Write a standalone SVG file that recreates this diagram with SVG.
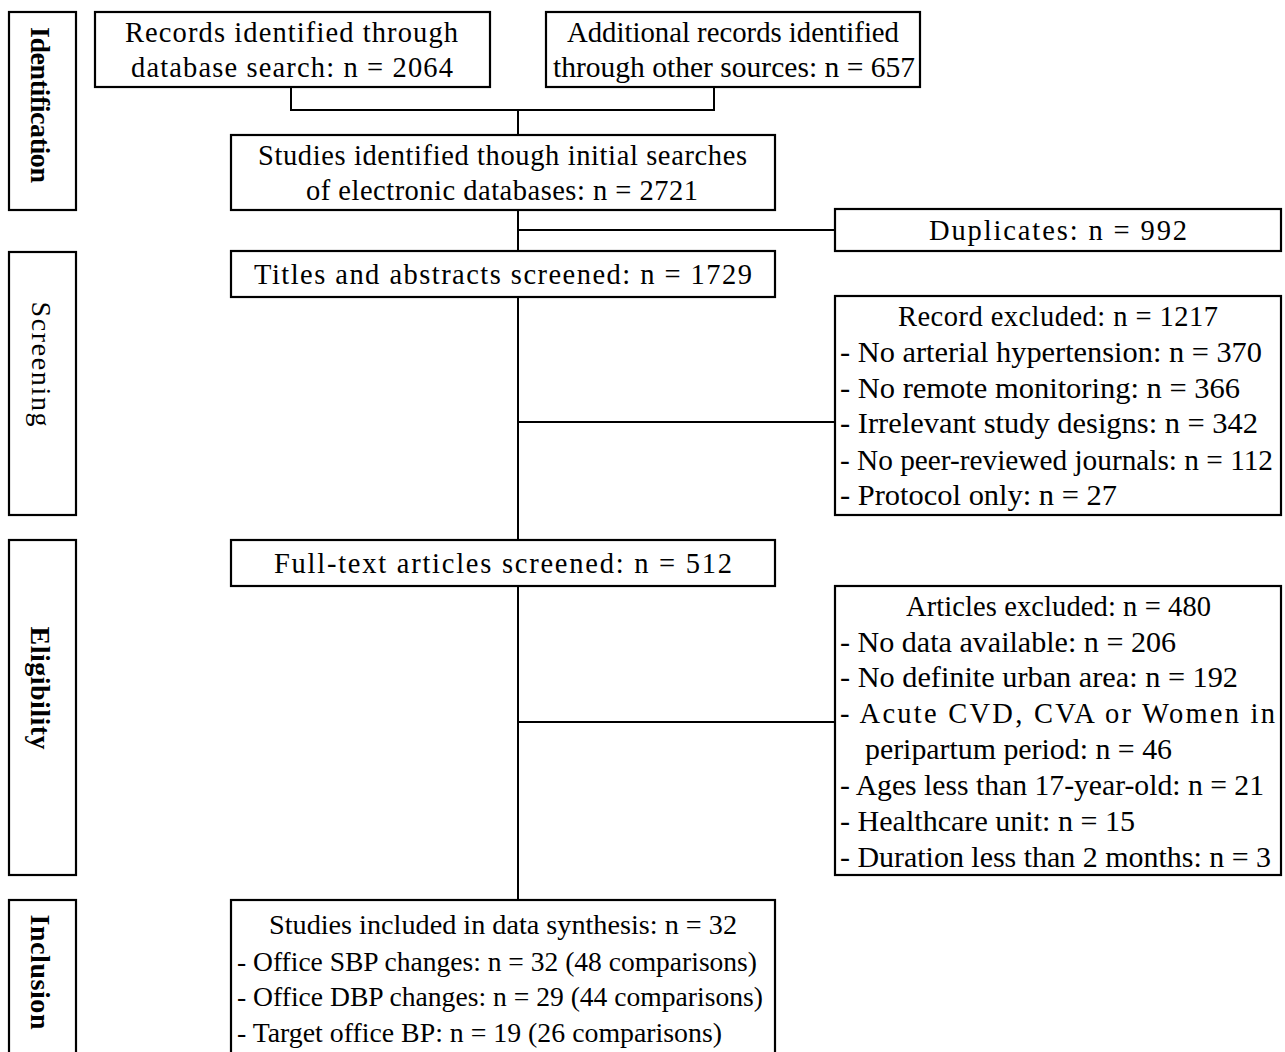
<svg xmlns="http://www.w3.org/2000/svg" width="1285" height="1052" viewBox="0 0 1285 1052">
<style>
.box{fill:#fff;stroke:#000;stroke-width:2.2}
.ln{fill:none;stroke:#000;stroke-width:2}
.t{font-family:"Liberation Serif","DejaVu Serif",serif;font-size:28.5px;fill:#000}
.s{font-family:"Liberation Serif","DejaVu Serif",serif;font-size:27px;fill:#000}
.side{font-family:"Liberation Serif","DejaVu Serif",serif;font-size:28px;fill:#000;font-weight:bold;text-anchor:middle}
</style>
<rect width="1285" height="1052" fill="#fff"/>
<g id="connectors">
<polyline class="ln" points="291,87 291,110 714,110 714,87"/>
<line class="ln" x1="518" y1="110" x2="518" y2="135"/>
<line class="ln" x1="518" y1="210" x2="518" y2="251"/>
<line class="ln" x1="518" y1="230" x2="835" y2="230"/>
<line class="ln" x1="518" y1="297" x2="518" y2="540"/>
<line class="ln" x1="518" y1="422" x2="835" y2="422"/>
<line class="ln" x1="518" y1="586" x2="518" y2="900"/>
<line class="ln" x1="518" y1="722" x2="835" y2="722"/>
</g>
<g id="stage-identification">
<rect class="box" x="9" y="12" width="67" height="198"/>
<text class="side" transform="translate(31,105) rotate(90)" textLength="156">Identification</text>
</g>
<g id="stage-screening">
<rect class="box" x="9" y="252" width="67" height="263"/>
<text class="side" transform="translate(32,364) rotate(90)" style="font-weight:normal" textLength="125">Screening</text>
</g>
<g id="stage-eligibility">
<rect class="box" x="9" y="540" width="67" height="335"/>
<text class="side" transform="translate(31,688) rotate(90)" textLength="123">Eligibility</text>
</g>
<g id="stage-inclusion">
<rect class="box" x="9" y="900" width="67" height="170"/>
<text class="side" transform="translate(31,972) rotate(90)" textLength="115">Inclusion</text>
</g>
<g id="records-db">
<rect class="box" x="95" y="12" width="395" height="75"/>
<text class="t" x="125" y="42" textLength="333" lengthAdjust="spacing">Records identified through</text>
<text class="t" x="131" y="77" textLength="322" lengthAdjust="spacing">database search: n = 2064</text>
</g>
<g id="records-other">
<rect class="box" x="546" y="12" width="374" height="75"/>
<text class="t" x="567" y="42" textLength="332" lengthAdjust="spacingAndGlyphs">Additional records identified</text>
<text class="t" x="553" y="77" textLength="362" lengthAdjust="spacingAndGlyphs">through other sources: n = 657</text>
</g>
<g id="studies-identified">
<rect class="box" x="231" y="135" width="544" height="75"/>
<text class="t" x="258" y="165" textLength="489" lengthAdjust="spacing">Studies identified though initial searches</text>
<text class="t" x="306" y="200" textLength="392" lengthAdjust="spacing">of electronic databases: n = 2721</text>
</g>
<g id="duplicates">
<rect class="box" x="835" y="209" width="446" height="42"/>
<text class="t" x="929" y="240" textLength="258" lengthAdjust="spacing">Duplicates: n = 992</text>
</g>
<g id="titles-screened">
<rect class="box" x="231" y="251" width="544" height="46"/>
<text class="t" x="254" y="284" textLength="498" lengthAdjust="spacing">Titles and abstracts screened: n = 1729</text>
</g>
<g id="record-excluded">
<rect class="box" x="835" y="296" width="446" height="219"/>
<text class="t" x="898" y="326" textLength="320" lengthAdjust="spacing">Record excluded: n = 1217</text>
<text class="t" x="840" y="362" textLength="422" lengthAdjust="spacingAndGlyphs">- No arterial hypertension: n = 370</text>
<text class="t" x="840" y="398" textLength="400" lengthAdjust="spacingAndGlyphs">- No remote monitoring: n = 366</text>
<text class="t" x="840" y="433" textLength="418" lengthAdjust="spacingAndGlyphs">- Irrelevant study designs: n = 342</text>
<text class="t" x="840" y="470" textLength="433" lengthAdjust="spacingAndGlyphs">- No peer-reviewed journals: n = 112</text>
<text class="t" x="840" y="505" textLength="277" lengthAdjust="spacingAndGlyphs">- Protocol only: n = 27</text>
</g>
<g id="fulltext-screened">
<rect class="box" x="231" y="540" width="544" height="46"/>
<text class="t" x="274" y="573" textLength="458" lengthAdjust="spacing">Full-text articles screened: n = 512</text>
</g>
<g id="articles-excluded">
<rect class="box" x="835" y="586" width="446" height="289"/>
<text class="t" x="906" y="616" textLength="305" lengthAdjust="spacing">Articles excluded: n = 480</text>
<text class="t" x="840" y="652" textLength="336" lengthAdjust="spacingAndGlyphs">- No data available: n = 206</text>
<text class="t" x="840" y="687" textLength="398" lengthAdjust="spacingAndGlyphs">- No definite urban area: n = 192</text>
<text class="t" x="840" y="723" textLength="435" lengthAdjust="spacing">- Acute CVD, CVA or Women in</text>
<text class="t" x="865" y="759" textLength="307" lengthAdjust="spacingAndGlyphs">peripartum period: n = 46</text>
<text class="t" x="840" y="795" textLength="424" lengthAdjust="spacingAndGlyphs">- Ages less than 17-year-old: n = 21</text>
<text class="t" x="840" y="831" textLength="295" lengthAdjust="spacingAndGlyphs">- Healthcare unit: n = 15</text>
<text class="t" x="840" y="867" textLength="431" lengthAdjust="spacingAndGlyphs">- Duration less than 2 months: n = 3</text>
</g>
<g id="studies-included">
<rect class="box" x="231" y="900" width="544" height="170"/>
<text class="s" x="269" y="934" textLength="468" lengthAdjust="spacingAndGlyphs">Studies included in data synthesis: n = 32</text>
<text class="s" x="237" y="971" textLength="520" lengthAdjust="spacingAndGlyphs">- Office SBP changes: n = 32 (48 comparisons)</text>
<text class="s" x="237" y="1006" textLength="526" lengthAdjust="spacingAndGlyphs">- Office DBP changes: n = 29 (44 comparisons)</text>
<text class="s" x="237" y="1042" textLength="485" lengthAdjust="spacingAndGlyphs">- Target office BP: n = 19 (26 comparisons)</text>
</g>
</svg>
